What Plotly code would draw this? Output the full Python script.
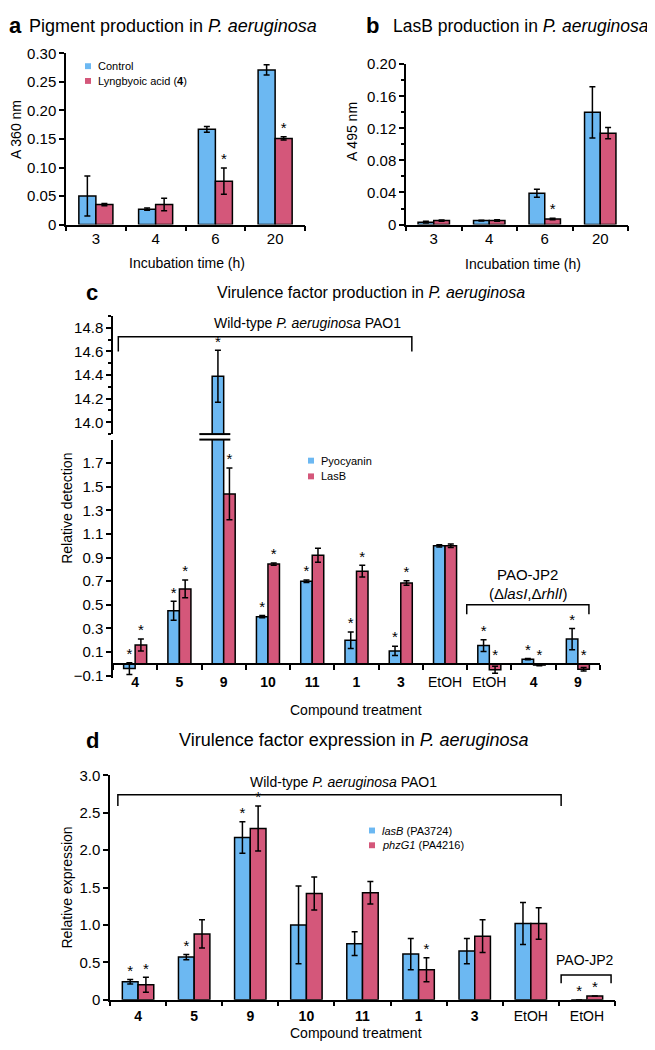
import plotly.graph_objects as go

# page size of the reference and the default 8px body margin of the html page
PAGE_W, PAGE_H = 655, 1050
OFF = 8
W, H = PAGE_W - OFF, PAGE_H - OFF
FONT = "Arial, 'Liberation Sans', sans-serif"
BLUE = "#6CB8F2"
RED = "#D4577A"

# ---------------- data ----------------
a_cats = ["3", "4", "6", "20"]
a_ctrl = [0.050, 0.027, 0.167, 0.271]
a_ctrl_err = [0.035, 0.002, 0.005, 0.009]
a_lyng = [0.035, 0.035, 0.076, 0.151]
a_lyng_err = [0.002, 0.011, 0.023, 0.003]
a_ctrl_sig = [False, False, False, False]
a_lyng_sig = [False, False, True, True]
a_series = ["Control", "Lyngbyoic acid (<b>4</b>)"]

b_cats = ["3", "4", "6", "20"]
b_ctrl = [0.003, 0.005, 0.039, 0.140]
b_ctrl_err = [0.001, 0.0005, 0.005, 0.032]
b_lyng = [0.005, 0.005, 0.007, 0.114]
b_lyng_err = [0.0008, 0.001, 0.001, 0.007]
b_ctrl_sig = [False, False, False, False]
b_lyng_sig = [False, False, True, False]

c_cats = ["4", "5", "9", "10", "11", "1", "3", "EtOH", "EtOH", "4", "9"]
c_pyo = [-0.04, 0.45, 14.39, 0.40, 0.70, 0.20, 0.11, 1.00, 0.155, 0.04, 0.21]
c_pyo_err = [0.05, 0.08, 0.22, 0.01, 0.01, 0.07, 0.04, 0.01, 0.05, 0.005, 0.09]
c_las = [0.16, 0.635, 1.44, 0.845, 0.92, 0.785, 0.685, 1.00, -0.05, -0.01, -0.045]
c_las_err = [0.05, 0.075, 0.22, 0.01, 0.06, 0.05, 0.02, 0.015, 0.03, 0.005, 0.015]
c_pyo_sig = [True, True, True, True, True, True, True, False, True, True, True]
c_las_sig = [True, True, True, True, False, True, True, False, True, True, True]
c_series = ["Pyocyanin", "LasB"]

d_cats = ["4", "5", "9", "10", "11", "1", "3", "EtOH", "EtOH"]
d_las = [0.24, 0.57, 2.17, 1.00, 0.75, 0.61, 0.65, 1.02, 0.0]
d_las_err = [0.03, 0.035, 0.21, 0.52, 0.16, 0.21, 0.17, 0.28, 0.0]
d_phz = [0.20, 0.88, 2.29, 1.42, 1.43, 0.40, 0.85, 1.02, 0.05]
d_phz_err = [0.10, 0.19, 0.30, 0.22, 0.15, 0.16, 0.22, 0.21, 0.0]
d_las_sig = [True, True, True, False, False, False, False, False, True]
d_phz_sig = [True, False, True, False, False, True, False, False, True]
d_series = ["<i>lasB</i> (PA3724)", "<i>phzG1</i> (PA4216)"]

# axis ranges and ticks
a_range = [0, 0.30]
a_yt = [0, 0.05, 0.10, 0.15, 0.20, 0.25, 0.30]
b_range = [0, 0.20]
b_yt = [0, 0.04, 0.08, 0.12, 0.16, 0.20]
b_minor = [0.02, 0.06, 0.10, 0.14, 0.18]
cu_range = [13.9, 14.9]
cu_yt = [14.0, 14.2, 14.4, 14.6, 14.8]
cu_minor = [13.9, 14.1, 14.3, 14.5, 14.7, 14.9]
cl_range = [-0.12, 1.9]
cl_yt = [-0.1, 0.1, 0.3, 0.5, 0.7, 0.9, 1.1, 1.3, 1.5, 1.7]
d_range = [0, 3.0]
d_yt = [0, 0.5, 1.0, 1.5, 2.0, 2.5, 3.0]


def bold_labels(cats):
    return [c if c == "EtOH" else f"<b>{c}</b>" for c in cats]


# ---------------- helpers (page pixel -> paper) ----------------
def px(x):
    return (x - OFF) / W


def py(y):
    return 1 - (y - OFF) / H


def xd(left, right):
    return [px(left), px(right)]


def yd(top, bottom):
    return [py(bottom), py(top)]


fig = go.Figure()


def add_pair(xa, ya, v1, e1, s1, v2, e2, s2, width, names, yrange, star_size=15):
    idx = list(range(len(v1)))
    for vals, errs, sig, color, off, name in [(v1, e1, s1, BLUE, -width, names[0]),
                                              (v2, e2, s2, RED, 0.0, names[1])]:
        fig.add_trace(go.Bar(
            x=idx, y=vals, width=width, offset=off, name=name,
            marker=dict(color=color, line=dict(color="black", width=1.5)),
            error_y=dict(type="data", array=errs, color="black", thickness=1.5, width=3),
            xaxis=xa, yaxis=ya, showlegend=False, hoverinfo="skip"))
        pts = [(i + off + width / 2, max(v + e, 0)) for i, v, e, s in zip(idx, vals, errs, sig)
               if s and yrange[0] <= max(v + e, 0) <= yrange[1]]
        fig.add_trace(go.Scatter(
            x=[p[0] for p in pts], y=[p[1] for p in pts], mode="text",
            text=["*"] * len(pts), textposition="top center",
            textfont=dict(size=star_size, color="black", family=FONT),
            xaxis=xa, yaxis=ya, showlegend=False, hoverinfo="skip", cliponaxis=False))


add_pair("x", "y", a_ctrl, a_ctrl_err, a_ctrl_sig, a_lyng, a_lyng_err, a_lyng_sig, 0.285, a_series, a_range)
add_pair("x2", "y2", b_ctrl, b_ctrl_err, b_ctrl_sig, b_lyng, b_lyng_err, b_lyng_sig, 0.283, a_series, b_range)
add_pair("x3", "y3", c_pyo, c_pyo_err, c_pyo_sig, c_las, c_las_err, c_las_sig, 0.26, c_series, cu_range)
add_pair("x4", "y4", c_pyo, c_pyo_err, c_pyo_sig, c_las, c_las_err, c_las_sig, 0.26, c_series, cl_range)
add_pair("x5", "y5", d_las, d_las_err, d_las_sig, d_phz, d_phz_err, d_phz_sig, 0.28, d_series, d_range)


# ---------------- axes ----------------
def tfont(size):
    return dict(size=size, color="black", family=FONT)


def xaxis(n, domain, labels, anchor, fsize=14, **kw):
    d = dict(
        domain=domain, range=[-0.5, n - 0.5], anchor=anchor,
        showline=True, linecolor="black", linewidth=1.5,
        showgrid=False, zeroline=False, ticks="",
        tickvals=list(range(n)), ticktext=labels, tickfont=tfont(fsize),
        minor=dict(tickvals=[i - 0.5 for i in range(n + 1)], ticks="outside",
                   ticklen=5, tickwidth=1.5, tickcolor="black", showgrid=False),
        fixedrange=True)
    d.update(kw)
    return d


def yaxis(domain, rng, tickvals, ticktext, anchor, minor=None, fsize=14, **kw):
    d = dict(
        domain=domain, range=rng, anchor=anchor,
        showline=True, linecolor="black", linewidth=1.5,
        showgrid=False, zeroline=False, ticks="outside", ticklen=5, tickwidth=1.5,
        tickcolor="black", tickvals=tickvals, ticktext=ticktext, tickfont=tfont(fsize),
        fixedrange=True)
    if minor is not None:
        d["minor"] = dict(tickvals=minor, ticks="outside", ticklen=3, tickwidth=1.5,
                          tickcolor="black", showgrid=False)
    d.update(kw)
    return d


cl_dom = yd(437.6, 680)
zero_pos = cl_dom[0] + (0 - cl_range[0]) / (cl_range[1] - cl_range[0]) * (cl_dom[1] - cl_dom[0])

layout_axes = dict(
    xaxis=xaxis(4, xd(66, 305), a_cats, "y", fsize=15),
    yaxis=yaxis(yd(45, 219), a_range, a_yt,
                ["0" if v == 0 else f"{v:.2f}" for v in a_yt], "x", fsize=15),
    xaxis2=xaxis(4, xd(406, 628), b_cats, "y2", fsize=15),
    yaxis2=yaxis(yd(56, 219), b_range, b_yt,
                 ["0" if v == 0 else f"{v:.2f}" for v in b_yt], "x2",
                 minor=b_minor, fsize=15),
    xaxis3=xaxis(11, xd(113, 600), bold_labels(c_cats), "y3", visible=False),
    yaxis3=yaxis(yd(312, 432), cu_range, cu_yt, [f"{v:.1f}" for v in cu_yt], "x3",
                 minor=cu_minor, fsize=15),
    xaxis4=xaxis(11, xd(113, 600), bold_labels(c_cats), "free",
                 position=zero_pos, ticklabelstandoff=6),
    yaxis4=yaxis(cl_dom, cl_range, cl_yt,
                 [("\u2212" if v < 0 else "") + f"{abs(v):.1f}" for v in cl_yt], "x4",
                 fsize=15),
    xaxis5=xaxis(9, xd(110, 615), bold_labels(d_cats), "y5", ticklabelstandoff=3),
    yaxis5=yaxis(yd(779, 1007), d_range, d_yt,
                 ["0" if v == 0 else f"{v:.1f}" for v in d_yt], "x5", fsize=15),
)

# ---------------- annotations ----------------
ann = []
shapes = []


def text(x, y, s, size=14, xanchor="center", yanchor="middle", angle=0, xref="paper", yref="paper"):
    if xref == "paper":
        x = px(x)
    if yref == "paper":
        y = py(y)
    ann.append(dict(x=x, y=y, xref=xref, yref=yref, text=s, showarrow=False,
                    xanchor=xanchor, yanchor=yanchor, textangle=angle,
                    font=dict(size=size, color="black", family=FONT)))


# panel letters and titles
text(7, 17, "<b>a</b>", size=22, xanchor="left")
text(27, 17, "Pigment production in <i>P. aeruginosa</i>", size=18, xanchor="left")
text(364, 17, "<b>b</b>", size=22, xanchor="left")
text(391, 17, "LasB production in <i>P. aeruginosa</i>", size=17.5, xanchor="left")
text(84, 288, "<b>c</b>", size=22, xanchor="left")
text(215, 288, "Virulence factor production in <i>P. aeruginosa</i>", size=16, xanchor="left")
text(84, 743, "<b>d</b>", size=22, xanchor="left")
text(354, 743, "Virulence factor expression in <i>P. aeruginosa</i>", size=18)

# axis titles
text(16, 123, "A 360 nm", angle=-90)
text(187, 258, "Incubation time (h)")
text(352, 125, "A 495 nm", angle=-90)
text(523, 259, "Incubation time (h)")
text(67, 508, "Relative detection", angle=-90)
text(356, 712, "Compound treatment")
text(67, 893, "Relative expression", angle=-90)
text(356, 1041, "Compound treatment")


# legends (swatch + label)
def legend(x_sq, ys, names):
    for y, name, color in zip(ys, names, [BLUE, RED]):
        shapes.append(dict(type="rect", xref="paper", yref="paper",
                           x0=px(x_sq - 3), x1=px(x_sq + 3),
                           y0=py(y + 3), y1=py(y - 3),
                           fillcolor=color, line=dict(width=0)))
        text(x_sq + 8, y, name, size=11, xanchor="left")


legend(88, [58, 73], a_series)
legend(311, [459, 475], c_series)
legend(372, [835, 850], d_series)

# brackets (positions in category index / value units)
c_wt_x = [-0.38, 6.25]
c_wt_y = [14.725, 14.6]
c_jp2_x = [7.49, 10.25]
c_jp2_y = [0.50, 0.42]
d_wt_x = [-0.36, 7.54]
d_wt_y = [2.74, 2.59]
d_jp2_x = [7.54, 8.43]
d_jp2_y = [0.33, 0.22]


def bracket(xr, yr, xref, yref):
    x0, x1 = xr
    yt, yb = yr
    path = f"M{x0},{yb} L{x0},{yt} L{x1},{yt} L{x1},{yb}"
    shapes.append(dict(type="path", path=path, xref=xref, yref=yref,
                       line=dict(color="black", width=1.5)))


bracket(c_wt_x, c_wt_y, "x3", "y3")
bracket(c_jp2_x, c_jp2_y, "x4", "y4")
bracket(d_wt_x, d_wt_y, "x5", "y5")
bracket(d_jp2_x, d_jp2_y, "x5", "y5")

text(6.05, 14.84, "Wild-type <i>P. aeruginosa</i> PAO1", xanchor="right", xref="x3", yref="y3")
text(8.87, 0.76, "PAO-JP2", size=15, xref="x4", yref="y4")
text(8.87, 0.60, "(\u0394<i>lasI</i>,\u0394<i>rhlI</i>)", size=15, xref="x4", yref="y4")
text(3.66, 2.91, "Wild-type <i>P. aeruginosa</i> PAO1", xref="x5", yref="y5")
text(7.96, 0.53, "PAO-JP2", xref="x5", yref="y5")

# axis-break marks on the truncated bar (compound 9)
brk_x = [1.45, 2.15]
for yref_dom, ypos in [("y3 domain", 0.0), ("y4 domain", 1.0)]:
    shapes.append(dict(type="line", xref="x4", yref=yref_dom, x0=brk_x[0], x1=brk_x[1],
                       y0=ypos, y1=ypos, line=dict(color="black", width=2)))

fig.update_layout(
    width=W, height=H, margin=dict(l=0, r=0, t=0, b=0),
    paper_bgcolor="white", plot_bgcolor="white",
    barmode="overlay", font=dict(family=FONT, color="black"),
    annotations=ann, shapes=shapes, showlegend=False,
    **layout_axes,
)

fig.write_html("out.html", config={"displayModeBar": False})
